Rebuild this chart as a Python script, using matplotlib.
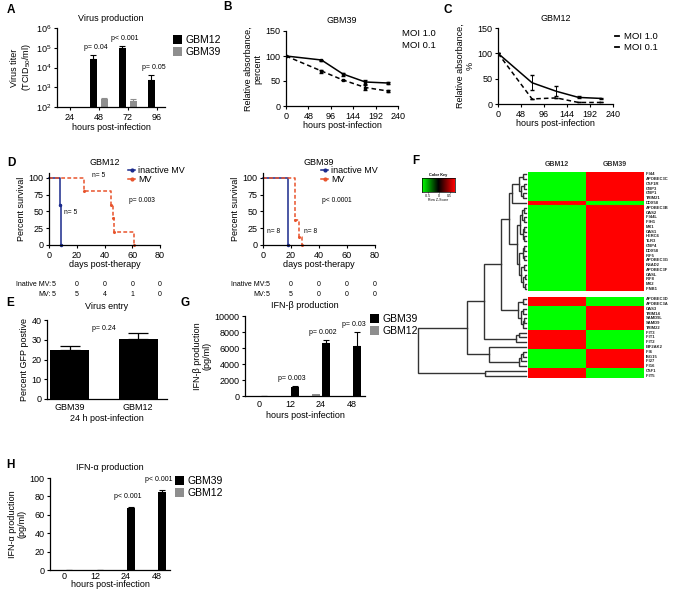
import numpy as np
import matplotlib
matplotlib.use('Agg')
import matplotlib.pyplot as plt
from matplotlib.colors import LinearSegmentedColormap
from matplotlib.lines import Line2D
import matplotlib.transforms as mtransforms

plt.rcParams['font.family'] = ['Liberation Sans', 'DejaVu Sans']
plt.rcParams['mathtext.fontset'] = 'custom'
plt.rcParams['mathtext.rm'] = 'Liberation Sans'
plt.rcParams['mathtext.it'] = 'Liberation Sans:italic'
plt.rcParams['axes.linewidth'] = 0.9
plt.rcParams['xtick.major.width'] = 0.8
plt.rcParams['ytick.major.width'] = 0.8
plt.rcParams['xtick.major.size'] = 2.5
plt.rcParams['ytick.major.size'] = 2.5
plt.rcParams['xtick.labelsize'] = 6.5
plt.rcParams['ytick.labelsize'] = 6.5
plt.rcParams['axes.labelsize'] = 6.5
plt.rcParams['axes.titlesize'] = 6.5

# ---------------- data ----------------
# A virus production
a_hours = ['24', '48', '72', '96']
a_gbm12 = [0, 2.8e4, 1.0e5, 2.2e3]
a_gbm12_err = [0, 1.4e4, 2.6e4, 1.8e3]
a_gbm39 = [0, 245, 195, 0]
a_gbm39_err = [0, 45, 50, 0]
a_pvals = ['', 'p= 0.04', 'p< 0.001', 'p= 0.05']

# B GBM39 viability
b_hours = [0, 76, 122, 170, 218]
b_moi1 = [100, 92, 64, 48, 46]
b_moi1_err = [0, 1, 3, 4, 2]
b_moi01 = [100, 70, 52, 37, 30]
b_moi01_err = [0, 3, 0, 5, 2]

# C GBM12 viability
c_hours = [0, 71, 122, 168, 215]
c_moi1 = [100, 42, 25, 13, 11]
c_moi1_err = [0, 15, 10, 2, 1]
c_moi01 = [100, 10, 12, 3, 3]
c_moi01_err = [0, 0, 0, 0, 0]

# D survival (event days)
d12_inactive = [8, 8, 9, 9, 9]
d12_mv = [25, 45, 46, 47, 61]
d39_inactive = [18, 18, 18, 18, 18, 18, 18, 18]
d39_mv = [23, 23, 23, 23, 23, 26, 26, 28]
d_table_days = [0, 20, 40, 60, 80]
d12_table_inactive = ['5', '0', '0', '0', '0']
d12_table_mv = ['5', '5', '4', '1', '0']
d39_table_inactive = ['5', '0', '0', '0', '0']
d39_table_mv = ['5', '5', '0', '0', '0']

# E virus entry
e_lines = ['GBM39', 'GBM12']
e_vals = [24.8, 30.2]
e_errs = [2.1, 3.1]

# G IFN-beta
g_hours = ['0', '12', '24', '48']
g_gbm39 = [0, 1150, 6600, 6200]
g_gbm39_err = [0, 100, 400, 1800]
g_gbm12 = [0, 0, 200, 0]
g_pvals = ['', 'p= 0.003', 'p= 0.002', 'p= 0.03']

# H IFN-alpha
h_hours = ['0', '12', '24', '48']
h_gbm39 = [0, 0, 67, 85]
h_gbm39_err = [0, 0, 2, 1.5]
h_gbm12 = [0, 0, 0, 0]
h_pvals = ['', '', 'p< 0.001', 'p< 0.001']

# F heatmap
genes = ['IFI44', 'APOBEC3C', 'CSF1R', 'GBP3', 'GBP1', 'TRIM21', 'DDX58',
         'APOBEC3B', 'OAS2', 'IFI44L', 'IFIH1', 'MX1', 'OAS1', 'HERC6', 'TLR3',
         'GBP4', 'DDX58', 'IRF5', 'APOBEC3G', 'RSAD2', 'APOBEC3F', 'OASL', 'IRF8',
         'MX2', 'IFNB1', 'APOBEC3D', 'APOBEC3A', 'OAS3', 'TRIM14', 'SAMD9L',
         'SAMD9', 'TRIM22', 'IFIT3', 'IFIT1', 'IFIT2', 'EIF2AK2', 'IFI6', 'ISG15',
         'IFI27', 'IFI16', 'CSF1', 'IFIT5']
# z-score in GBM39 column (GBM12 is the opposite)
z_gbm39 = [0.5] * 6 + [-0.5] + [0.5] * 18 + [-0.5] * 2 + [0.5] * 5 + [-0.5] * 4 + [0.5] * 4 + [-0.5] * 2
# dendrogram merges: (lo, mid, hi, height) on contiguous leaf ranges
merges = [
    (0, 1, 2, 10), (2, 3, 4, 6), (4, 5, 6, 8), (2, 4, 6, 14), (0, 2, 6, 20), (0, 6, 7, 40),
    (7, 8, 9, 6), (9, 10, 11, 5), (7, 9, 11, 12), (11, 12, 13, 6), (13, 14, 15, 5),
    (11, 13, 15, 10), (7, 11, 15, 18), (15, 16, 17, 6), (17, 18, 19, 5), (15, 17, 19, 10),
    (19, 20, 21, 6), (21, 22, 23, 4), (23, 24, 25, 4), (21, 23, 25, 8), (19, 21, 25, 14),
    (15, 19, 25, 20), (7, 15, 25, 26), (0, 7, 25, 50),
    (25, 26, 27, 10), (27, 28, 29, 8), (29, 30, 31, 5), (29, 31, 32, 9), (27, 29, 32, 14),
    (25, 27, 32, 24), (0, 25, 32, 75),
    (32, 33, 34, 20), (32, 34, 35, 30), (0, 32, 35, 125),
    (36, 37, 38, 8), (36, 38, 39, 14), (36, 39, 40, 20), (35, 36, 40, 110),
    (0, 35, 40, 175), (40, 41, 42, 120), (0, 40, 42, 320),
]

# ---------------- figure ----------------
W, H = 675, 589
fig = plt.figure(figsize=(W / 100, H / 100), dpi=100)


def axpx(x0, y0, x1, y1):
    return fig.add_axes([x0 / W, 1 - y1 / H, (x1 - x0) / W, (y1 - y0) / H])


def style(ax):
    for s in ['top', 'right']:
        ax.spines[s].set_visible(False)
    ax.tick_params(direction='out', pad=1.5)


def letter(x, y, s):
    fig.text(x / W, 1 - y / H, s, fontsize=8.5, fontweight='bold', ha='center', va='center')


def leg_anchor(x, y):
    return (x / W, 1 - y / H)


BLACK = '#000000'
GRAY = '#8e8e8e'

# ---- A ----
ax = axpx(57, 28, 165, 107)
style(ax)
ax.set_yscale('log')
ax.set_ylim(1e2, 1e6)
xa = np.arange(len(a_hours))
v12 = np.array(a_gbm12, float)
v39 = np.array(a_gbm39, float)
m12 = v12 > 0
m39 = v39 > 0
ax.bar(xa[m12] - 0.19, v12[m12] - 100, bottom=100, width=0.22, color=BLACK, label='GBM12')
ax.errorbar(xa[m12] - 0.19, v12[m12], yerr=[np.zeros(m12.sum()), np.array(a_gbm12_err)[m12]],
            fmt='none', ecolor=BLACK, elinewidth=0.8, capsize=2, capthick=0.8)
ax.bar(xa[m39] + 0.19, v39[m39] - 100, bottom=100, width=0.22, color=GRAY, label='GBM39')
ax.errorbar(xa[m39] + 0.19, v39[m39], yerr=[np.zeros(m39.sum()), np.array(a_gbm39_err)[m39]],
            fmt='none', ecolor=GRAY, elinewidth=0.8, capsize=2, capthick=0.8)
for i, p in enumerate(a_pvals):
    if p:
        top = a_gbm12[i] + a_gbm12_err[i]
        ax.annotate(p, (xa[i] - 0.1, top), xytext=(0, 3), textcoords='offset points',
                    ha='center', va='bottom', fontsize=5)
ax.set_xlim(-0.45, 3.28)
ax.set_xticks(xa)
ax.set_xticklabels(a_hours)
ax.set_yticks([1e2, 1e3, 1e4, 1e5, 1e6])
ax.set_yticklabels(['$10^2$', '$10^3$', '$10^4$', '$10^5$', '$10^6$'])
ax.minorticks_off()
ax.set_xlabel('hours post-infection', labelpad=1)
ax.set_ylabel('Virus titer\n(TCID$_{50}$/ml)', labelpad=2, linespacing=1.1)
ax.set_title('Virus production', pad=5)
ax.legend(loc='upper left', bbox_to_anchor=leg_anchor(173, 35), bbox_transform=fig.transFigure,
          frameon=False, fontsize=7.5, handlelength=0.9, handleheight=0.9, handletextpad=0.3,
          labelspacing=0.2, borderpad=0, borderaxespad=0)

# ---- B ----
ax = axpx(286, 31, 398, 106)
style(ax)
ax.errorbar(b_hours, b_moi1, yerr=b_moi1_err, color=BLACK, lw=1.1, marker='s', ms=1.6,
            capsize=1.5, elinewidth=0.7)
ax.errorbar(b_hours, b_moi01, yerr=b_moi01_err, color=BLACK, lw=1.1, ls=(0, (3, 2)), marker='s',
            ms=1.8, capsize=1.5, elinewidth=0.7)
ax.set_xlim(0, 240)
ax.set_ylim(0, 150)
ax.set_xticks(range(0, 241, 48))
ax.set_yticks([0, 50, 100, 150])
ax.set_xlabel('hours post-infection', labelpad=0)
ax.set_ylabel('Relative absorbance,\npercent', labelpad=2, linespacing=1.1)
ax.set_title('GBM39', pad=6)
for k, lab in enumerate(['MOI 1.0', 'MOI 0.1']):
    fig.text(402 / W, 1 - (33 + 13 * k) / H, lab, fontsize=6.8, va='center', ha='left')

# ---- C ----
ax = axpx(498, 28, 613, 104)
style(ax)
ax.errorbar(c_hours, c_moi1, yerr=c_moi1_err, color=BLACK, lw=1.1, capsize=1.5, elinewidth=0.7)
ax.errorbar(c_hours, c_moi01, yerr=c_moi01_err, color=BLACK, lw=1.1, ls=(0, (3, 2)), capsize=1.5,
            elinewidth=0.7)
ax.set_xlim(0, 240)
ax.set_ylim(0, 150)
ax.set_xticks(range(0, 241, 48))
ax.set_yticks([0, 50, 100, 150])
ax.set_xlabel('hours post-infection', labelpad=0)
ax.set_ylabel('Relative absorbance,\n%', labelpad=2, linespacing=1.1)
ax.set_title('GBM12', pad=5)
c_handles = [Line2D([], [], color=BLACK, lw=1.3), Line2D([], [], color=BLACK, lw=1.3)]
ax.legend(c_handles, ['MOI 1.0', 'MOI 0.1'], loc='upper left', bbox_to_anchor=leg_anchor(615, 32),
          bbox_transform=fig.transFigure, frameon=False, fontsize=6.8, handlelength=0.4,
          handletextpad=0.6, labelspacing=0.25, borderpad=0, borderaxespad=0)


# ---- D ----
def km(times):
    t = np.sort(np.array(times, float))
    n = len(t)
    ut, counts = np.unique(t, return_counts=True)
    surv = 100 * (1 - np.cumsum(counts) / n)
    xs = np.concatenate([[0], ut])
    ys = np.concatenate([[100], surv])
    return xs, ys


BLUE = '#1a2a8c'
RED = '#e8542c'


def km_panel(x0, x1, title, t_in, t_mv, nlabels, ptext, tab_in, tab_mv, lab_x, leg_x):
    ax = axpx(x0, 173, x1, 245)
    style(ax)
    xs, ys = km(t_in)
    ax.step(xs, ys, where='post', color=BLUE, lw=1.1, clip_on=False)
    ax.plot(xs[1:], ys[1:], ls='none', marker='o', ms=1.5, color=BLUE, clip_on=False)
    xs2, ys2 = km(t_mv)
    ax.step(xs2, ys2, where='post', color=RED, lw=1.1, ls=(0, (2.5, 1.5)), clip_on=False)
    ax.plot(xs2[1:], ys2[1:], ls='none', marker='o', ms=1.2, color=RED, clip_on=False)
    ax.plot([], [], color=BLUE, lw=1.1, marker='o', ms=2, label='inactive MV')
    ax.plot([], [], color=RED, lw=1.1, marker='o', ms=2, label='MV')
    ax.set_xlim(0, 80)
    ax.set_ylim(0, 107)
    ax.set_xticks([0, 20, 40, 60, 80])
    ax.set_yticks([0, 25, 50, 75, 100])
    ax.set_xlabel('days post-therapy', labelpad=0)
    ax.set_ylabel('Percent survival', labelpad=2)
    ax.set_title(title, pad=6)
    ax.legend(loc='upper left', bbox_to_anchor=leg_anchor(leg_x, 166),
              bbox_transform=fig.transFigure, frameon=False, fontsize=6.5, handlelength=0.8,
              handletextpad=0.3, labelspacing=0.05, borderpad=0, borderaxespad=0)
    for (nx, ny, s) in nlabels:
        ax.text(nx, ny, s, fontsize=4.8, ha='left', va='center')
    fig.text((leg_x + 1) / W, 1 - 200 / H, ptext, fontsize=4.8, ha='left', va='center')
    trans = mtransforms.blended_transform_factory(ax.transData, fig.transFigure)
    fig.text(lab_x / W, 1 - 285 / H, 'Inative MV:', fontsize=5, ha='right', va='center')
    fig.text(lab_x / W, 1 - 295 / H, 'MV:', fontsize=5, ha='right', va='center')
    for d, a, b in zip(d_table_days, tab_in, tab_mv):
        dx = d + 3 if d == 0 else d
        ax.text(dx, 1 - 285 / H, a, transform=trans, fontsize=5, ha='center', va='center')
        ax.text(dx, 1 - 295 / H, b, transform=trans, fontsize=5, ha='center', va='center')


km_panel(49, 160, 'GBM12', d12_inactive, d12_mv,
         [(31, 104, 'n= 5'), (11, 48, 'n= 5')], 'p= 0.003', d12_table_inactive, d12_table_mv, 51,
         128)
km_panel(263, 375, 'GBM39', d39_inactive, d39_mv,
         [(3, 20, 'n= 8'), (29, 20, 'n= 8')], 'p< 0.0001', d39_table_inactive, d39_table_mv, 266,
         321)

# ---- E ----
ax = axpx(47, 320, 167, 399)
style(ax)
xe = np.arange(len(e_lines))
ax.bar(xe, e_vals, width=0.57, color=BLACK)
ax.errorbar(xe, e_vals, yerr=[[0, 0], e_errs], fmt='none', ecolor=BLACK, elinewidth=0.9,
            capsize=7, capthick=0.9)
ax.set_xlim(-0.33, 1.42)
ax.set_ylim(0, 40)
ax.set_yticks([0, 10, 20, 30, 40])
ax.set_xticks(xe)
ax.set_xticklabels(e_lines)
ax.tick_params(axis='x', length=0, pad=3)
ax.set_xlabel('24 h post-infection', labelpad=1)
ax.set_ylabel('Percent GFP postive', labelpad=2)
ax.set_title('Virus entry', pad=8)
ax.text(0.5, 35.5, 'p= 0.24', fontsize=5, ha='center', va='center')


# ---- G & H ----
def ifn_panel(rect, hours, v39_, e39_, v12_, pvals, ylim, yticks, ylabel, title, leg_xy, pad_pts,
              xpad=3, xlabelpad=1):
    ax = axpx(*rect)
    style(ax)
    x = np.arange(len(hours))
    ax.bar(x - 0.17, v12_, width=0.26, color=GRAY, label='GBM12')
    ax.bar(x + 0.17, v39_, width=0.26, color=BLACK, label='GBM39')
    ax.errorbar(x + 0.17, v39_, yerr=[np.zeros(len(x)), e39_], fmt='none', ecolor=BLACK,
                elinewidth=0.8, capsize=2, capthick=0.8)
    for i, p in enumerate(pvals):
        if p:
            ax.annotate(p, (x[i] + 0.05, v39_[i] + e39_[i]), xytext=(0, pad_pts),
                        textcoords='offset points', ha='center', va='bottom', fontsize=5)
    ax.set_xlim(-0.45, 3.42)
    ax.set_ylim(*ylim)
    ax.set_yticks(yticks)
    ax.set_xticks(x)
    ax.set_xticklabels(hours)
    ax.tick_params(axis='x', length=0, pad=xpad)
    ax.set_xlabel('hours post-infection', labelpad=xlabelpad)
    ax.set_ylabel(ylabel, labelpad=2, linespacing=1.1)
    ax.set_title(title, pad=6)
    h_, l_ = ax.get_legend_handles_labels()
    ax.legend(h_[::-1], l_[::-1], loc='upper left', bbox_to_anchor=leg_anchor(*leg_xy),
              bbox_transform=fig.transFigure, frameon=False, fontsize=7.5, handlelength=0.9,
              handleheight=0.9, handletextpad=0.3, labelspacing=0.2, borderpad=0, borderaxespad=0)
    return ax


ifn_panel((245, 316, 365, 396), g_hours, g_gbm39, g_gbm39_err, g_gbm12, g_pvals, (0, 10000),
          [0, 2000, 4000, 6000, 8000, 10000], 'IFN-β production\n(pg/ml)', 'IFN-β production',
          (370, 314), 3)
ifn_panel((50, 478, 170, 570), h_hours, h_gbm39, h_gbm39_err, h_gbm12, h_pvals, (0, 100),
          [0, 20, 40, 60, 80, 100], 'IFN-α production\n(pg/ml)', 'IFN-α production',
          (175, 476), 5, xpad=1.5, xlabelpad=-0.5)

# ---- F heatmap ----
gap = 1.15
n = len(genes)
zmat = np.array([[-z, z] for z in z_gbm39])
cmap = LinearSegmentedColormap.from_list('gbr', ['#00ff00', '#000000', '#ff0000'])
row_y = np.array([i + 0.5 + (gap if i >= 25 else 0) for i in range(n)])
axh = axpx(528, 172, 644, 378)
for lo, hi in [(0, 25), (25, n)]:
    off = gap if lo >= 25 else 0
    yedges = np.arange(lo, hi + 1) + off
    axh.pcolormesh([0, 1, 2], yedges, zmat[lo:hi], cmap=cmap, vmin=-0.5, vmax=0.5,
                   edgecolors='none', shading='flat')
axh.set_xlim(0, 2)
axh.set_ylim(n + gap, 0)
axh.axis('off')
for i, gname in enumerate(genes):
    axh.text(2.03, row_y[i], gname, fontsize=3.0, ha='left', va='center', fontweight='bold',
             color='#222222')
axh.text(0.5, -0.9, 'GBM12', fontsize=5, ha='center', va='bottom', fontweight='bold',
         color='#333333')
axh.text(1.5, -0.9, 'GBM39', fontsize=5, ha='center', va='bottom', fontweight='bold',
         color='#333333')

# dendrogram
axd = axpx(417, 172, 526, 378)
axd.set_ylim(n + gap, 0)
axd.set_xlim(322, 0)
axd.axis('off')
nodes = {(i, i + 1): (row_y[i], 0.0) for i in range(n)}
for lo, mid, hi, hgt in merges:
    yl, hl = nodes[(lo, mid)]
    yr, hr = nodes[(mid, hi)]
    axd.plot([hl, hgt, hgt, hr], [yl, yl, yr, yr], color='#333333', lw=1.0,
             solid_joinstyle='miter', clip_on=False)
    nodes[(lo, hi)] = ((yl + yr) / 2, hgt)

# color key
axk = axpx(422, 178, 455, 192)
grad = np.linspace(-0.5, 0.5, 100).reshape(1, -1)
axk.imshow(grad, aspect='auto', cmap=cmap, extent=(-0.75, 0.75, 0, 1))
axk.set_yticks([])
axk.set_xticks([-0.5, 0, 0.5])
axk.set_xticklabels(['-0.5', '0', '0.5'])
axk.tick_params(axis='x', labelsize=2.5, length=1, pad=0.3, width=0.4)
for s in axk.spines.values():
    s.set_linewidth(0.5)
axk.set_title('Color Key', fontsize=2.8, pad=1.5, fontweight='bold')
axk.set_xlabel('Row Z-Score', fontsize=2.5, labelpad=0.3)

# panel letters
letter(11, 10, 'A')
letter(228, 7, 'B')
letter(448, 10, 'C')
letter(11, 163, 'D')
letter(10, 303, 'E')
letter(416, 161, 'F')
letter(185, 303, 'G')
letter(10, 465, 'H')

fig.savefig('out.png', dpi=100)
